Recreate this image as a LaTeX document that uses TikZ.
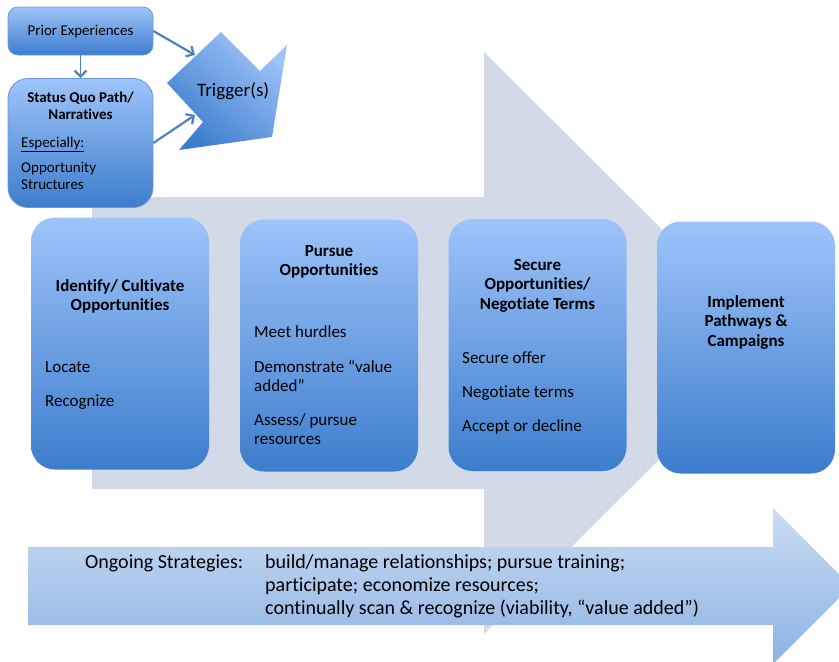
\documentclass[tikz,border=0pt]{standalone}
\usepackage{fontspec}
\setmainfont{Carlito}[Ligatures=NoCommon]
\usetikzlibrary{arrows.meta}

\definecolor{flowgray}{RGB}{210,217,231}
\definecolor{boxtop}{RGB}{158,196,250}
\definecolor{boxbot}{RGB}{61,125,205}
\definecolor{boxedge}{RGB}{110,152,214}
\definecolor{linkblue}{RGB}{79,129,189}
\definecolor{bandtop}{RGB}{203,220,243}
\definecolor{bandbot}{RGB}{140,178,227}

\begin{document}
% multi-line nodes below are placed by the baseline of their last line
\begin{tikzpicture}[x=1pt,y=-1pt,
  stage/.style={rounded corners=24pt, top color=boxtop, bottom color=boxbot,
    minimum width=178pt, minimum height=252pt, inner sep=0pt},
  smallbox/.style={top color=boxtop, bottom color=boxbot, draw=boxedge,
    line width=0.8pt, minimum width=145pt, inner sep=0pt},
  title/.style={font=\fontsize{17}{19.5}\selectfont\bfseries, align=center,
    inner sep=0pt, anchor=base},
  body/.style={font=\fontsize{17}{19.5}\selectfont, align=left,
    inner sep=0pt, anchor=base west},
  small/.style={font=\fontsize{15}{17.5}\selectfont, inner sep=0pt},
  link/.style={draw=linkblue, line width=2.2pt,
    -{Straight Barb[length=6pt,width=12pt,line width=2.2pt]}}
]
\useasboundingbox (0,0) rectangle (839,662);

% large background process arrow
\fill[flowgray] (92,197) -- (484,197) -- (484,52) -- (776,343)
  -- (484,634) -- (484,489) -- (92,489) -- cycle;

% ongoing strategies band arrow (clipped at the right edge)
\begin{scope}
  \clip (0,0) rectangle (839,662);
  \shade[top color=bandtop, bottom color=bandbot]
    (28,547) -- (773,547) -- (773,508) -- (851,586)
    -- (773,664) -- (773,625) -- (28,625) -- cycle;
\end{scope}
\node[font=\fontsize{20}{23}\selectfont, inner sep=0pt, anchor=base west]
  (ongoing) at (85,568) {Ongoing Strategies:};
\node[font=\fontsize{20}{23}\selectfont, align=left, inner sep=0pt,
  anchor=base west] (strategies) at (265,614)
  {build/manage relationships; pursue training;\\
   participate; economize resources;\\
   continually scan \& recognize (viability, “value added”)};

% the four stage boxes
\node[stage] (identify)  at (120,343.5) {};
\node[stage] (pursue)    at (329,345.5) {};
\node[stage] (secure)    at (537.5,345) {};
\node[stage] (implement) at (746,347.5) {};

\node[title] (identifyT) at (120,310.5) {Identify/ Cultivate\\Opportunities};
\node[body] (locate) at (45,372) {Locate};
\node[body] (recognize) at (45,406) {Recognize};

\node[title] (pursueT) at (329,275.5) {Pursue\\Opportunities};
\node[body] (hurdles) at (254,337) {Meet hurdles};
\node[body] (demonstrate) at (254,391.5) {Demonstrate “value\\added”};
\node[body] (assess) at (254,444.5) {Assess/ pursue\\resources};

\node[title] (secureT) at (537.5,309) {Secure\\Opportunities/\\Negotiate Terms};
\node[body] (offer) at (462,363) {Secure offer};
\node[body] (terms) at (462,397) {Negotiate terms};
\node[body] (accept) at (462,431) {Accept or decline};

\node[title] (implementT) at (746,346) {Implement\\Pathways \&\\Campaigns};

% trigger shape
\shade[top color=boxtop, bottom color=boxbot, shading angle=-40]
  (167,83) -- (221,32) -- (260,71) -- (287,45) -- (272,137)
  -- (179,150) -- (203,122) -- cycle;
\node[font=\fontsize{19}{22}\selectfont, inner sep=0pt, anchor=base west]
  (trigger) at (197,96) {Trigger(s)};
\coordinate (trigA) at (195,55);
\coordinate (trigB) at (195,115);

% context boxes
\node[smallbox, rounded corners=10pt, minimum height=48pt] (prior) at (80.5,31) {};
\node[small, anchor=base] (priorT) at (80.5,35) {Prior Experiences};

\node[smallbox, rounded corners=20pt, minimum height=129pt] (status) at (80.5,143) {};
\node[small, font=\fontsize{15}{17.5}\selectfont\bfseries, align=center, anchor=base]
  (statusT) at (80.5,119.5) {Status Quo Path/\\Narratives};
\node[small, anchor=base west] (especially) at (21,147) {\underline{Especially:}};
\node[small, align=left, anchor=base west] (structures) at (21,189.5)
  {Opportunity\\Structures};

% links
\draw[link, line width=1.8pt] (prior.south) -- (status.north);
\draw[link] (prior.east) -- (trigA);
\draw[link] (status.east) -- (trigB);
\end{tikzpicture}
\end{document}
